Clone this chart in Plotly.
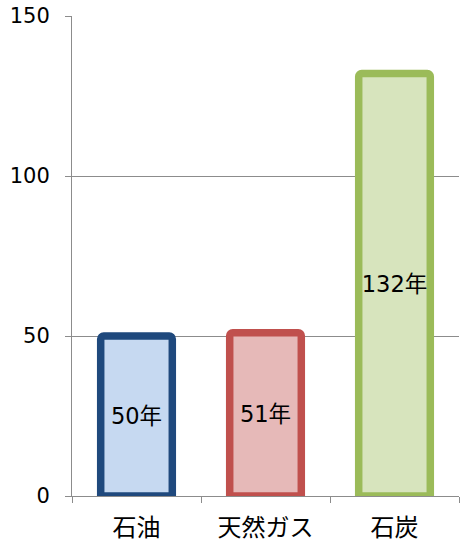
import plotly.graph_objects as go

categories = ["石油", "天然ガス", "石炭"]
values = [50, 51, 132]
labels = ["50年", "51年", "132年"]
fill_colors = ["#C6D9F1", "#E6B9B8", "#D7E4BD"]
line_colors = ["#1F497D", "#C0504D", "#9BBB59"]
yticks = [0, 50, 100, 150]

font = "DejaVu Sans, Noto Sans CJK JP"

fig = go.Figure(go.Bar(
    x=categories, y=values, text=labels,
    textposition="inside", insidetextanchor="middle", textangle=0,
    textfont=dict(family=font, size=24, color="black"),
    marker=dict(color=fill_colors, line=dict(color=line_colors, width=7.5), cornerradius=3),
    width=0.555,
))
fig.update_layout(
    width=462, height=542,
    margin=dict(l=72, r=3, t=16, b=46),
    paper_bgcolor="white", plot_bgcolor="white",
    showlegend=False,
    font=dict(family=font, color="black"),
    uniformtext=dict(minsize=8, mode="show"),
)
fig.update_yaxes(
    range=[0, 150], tickvals=yticks, ticktext=[str(v) for v in yticks],
    showgrid=True, gridcolor="#8C8C8C", gridwidth=1,
    showline=True, linecolor="#8C8C8C", linewidth=1,
    ticks="outside", ticklen=6, tickcolor="#8C8C8C",
    tickfont=dict(family=font, size=21, color="black"),
    ticklabelstandoff=11, zeroline=False, automargin=False,
)
fig.update_xaxes(
    showline=True, linecolor="#8C8C8C", linewidth=1,
    ticks="outside", ticklen=6, tickcolor="#8C8C8C",
    tickson="boundaries",
    tickfont=dict(family="Noto Sans CJK JP", size=24, color="black"),
    ticklabelstandoff=10, automargin=False,
)
fig.write_html("out.html")
